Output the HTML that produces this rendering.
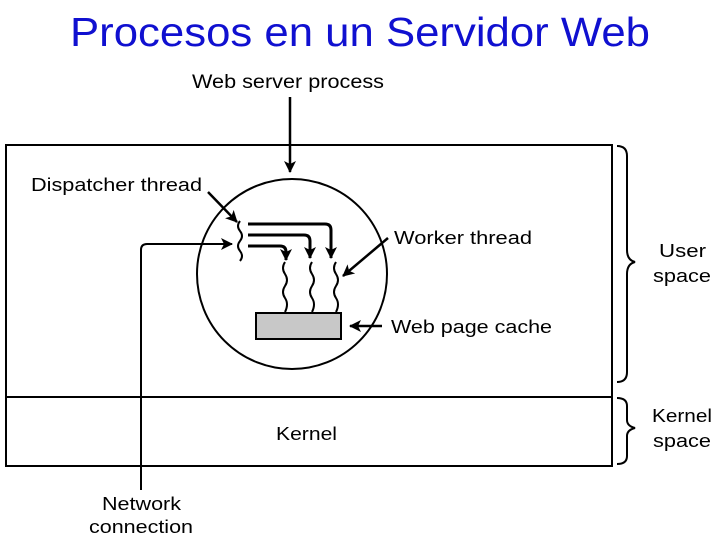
<!DOCTYPE html>
<html><head><style>
body{margin:0;width:720px;height:540px;background:#fff;overflow:hidden}
svg{display:block}
text{font-family:"Liberation Sans",sans-serif;fill:#000}
</style></head><body>
<svg width="720" height="540" viewBox="0 0 720 540">
<defs>
<marker id="a" markerWidth="12" markerHeight="12" refX="11" refY="6" orient="auto" markerUnits="userSpaceOnUse">
<path d="M0,0 L12,6 L0,12 L3,6 Z" fill="#000"/></marker>
</defs>
<text x="70" y="46" font-size="41" textLength="580" lengthAdjust="spacingAndGlyphs" style="fill:#1010d0">Procesos en un Servidor Web</text>
<text x="192" y="88" font-size="19" textLength="192" lengthAdjust="spacingAndGlyphs">Web server process</text>
<rect x="6" y="145" width="606" height="321" fill="none" stroke="#000" stroke-width="2"/>
<line x1="6" y1="397" x2="612" y2="397" stroke="#000" stroke-width="2"/>
<line x1="290" y1="97" x2="290" y2="172" stroke="#000" stroke-width="2.5" marker-end="url(#a)"/>
<circle cx="292" cy="274" r="95" fill="none" stroke="#000" stroke-width="2"/>
<text x="31" y="191" font-size="18" textLength="171" lengthAdjust="spacingAndGlyphs">Dispatcher thread</text>
<line x1="208" y1="192" x2="237" y2="222" stroke="#000" stroke-width="2.5" marker-end="url(#a)"/>
<g fill="none" stroke="#000" stroke-width="2">
<path d="M240,221 q-4,5 0,10 q4,5 0,10 q-4,5 0,10 q4,5 0,10"/>
<path d="M285,262 q-4,6 0,12 q4,6 0,12 q-4,6 0,12 q4,6 0,14"/>
<path d="M312,262 q-4,6 0,12 q4,6 0,12 q-4,6 0,12 q4,6 0,14"/>
<path d="M336,262 q-4,6 0,12 q4,6 0,12 q-4,6 0,12 q4,6 0,14"/>
</g>
<g fill="none" stroke="#000" stroke-width="3">
<path d="M248,224 H325 q6,0 6,6 V258" marker-end="url(#a)"/>
<path d="M248,235 H304 q6,0 6,6 V258" marker-end="url(#a)"/>
<path d="M248,246 H280 q6,0 6,6 V260" marker-end="url(#a)"/>
</g>
<path d="M141,490 V250 q0,-6 6,-6 H232" fill="none" stroke="#000" stroke-width="2" marker-end="url(#a)"/>
<rect x="256" y="313" width="85" height="26" fill="#c8c8c8" stroke="#000" stroke-width="2"/>
<text x="394" y="244" font-size="18" textLength="138" lengthAdjust="spacingAndGlyphs">Worker thread</text>
<line x1="388" y1="238" x2="343" y2="276" stroke="#000" stroke-width="2.5" marker-end="url(#a)"/>
<text x="391" y="333" font-size="18" textLength="161" lengthAdjust="spacingAndGlyphs">Web page cache</text>
<line x1="382" y1="326" x2="350" y2="326" stroke="#000" stroke-width="2.5" marker-end="url(#a)"/>
<text x="276" y="440" font-size="18" textLength="61" lengthAdjust="spacingAndGlyphs">Kernel</text>
<text x="102" y="510" font-size="18" textLength="79" lengthAdjust="spacingAndGlyphs">Network</text>
<text x="89" y="533" font-size="18" textLength="104" lengthAdjust="spacingAndGlyphs">connection</text>
<g fill="none" stroke="#000" stroke-width="2">
<path d="M617,146 q10,0 10,10 V250 q0,10 8,12 q-8,2 -8,12 V372 q0,10 -10,10"/>
<path d="M617,398 q10,0 10,8 V420 q0,6 8,8 q-8,2 -8,8 V456 q0,8 -10,8"/>
</g>
<text x="659" y="257" font-size="18" textLength="47" lengthAdjust="spacingAndGlyphs">User</text>
<text x="653" y="282" font-size="18" textLength="58" lengthAdjust="spacingAndGlyphs">space</text>
<text x="652" y="422" font-size="18" textLength="60" lengthAdjust="spacingAndGlyphs">Kernel</text>
<text x="653" y="447" font-size="18" textLength="58" lengthAdjust="spacingAndGlyphs">space</text>
</svg>
</body></html>
